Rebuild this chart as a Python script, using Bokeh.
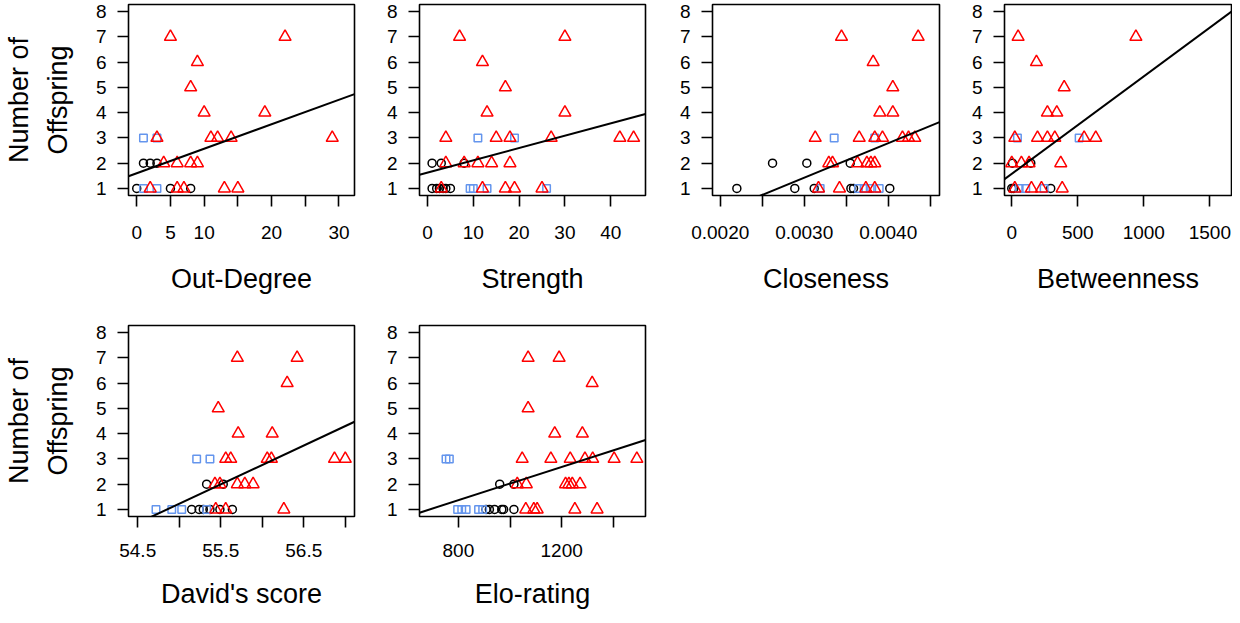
from bokeh.plotting import figure
from bokeh.models import Range1d, FixedTicker, NumeralTickFormatter
from bokeh.layouts import row, column
from bokeh.embed import file_html
from bokeh.resources import INLINE

FONT = "Liberation Sans"
Y_LABEL = "Number of\nOffspring"
Y_TICKS = [1, 2, 3, 4, 5, 6, 7, 8]
Y_RANGE = (0.72, 8.28)

# ---------------- Out-Degree ----------------
od_label = "Out-Degree"
od_tri_x = [5, 22, 9, 8, 10, 19, 3, 11, 12, 14, 29, 4, 6, 8, 9, 2, 6, 7, 13, 15]
od_tri_y = [7, 7, 6, 5, 4, 4, 3, 3, 3, 3, 3, 2, 2, 2, 2, 1, 1, 1, 1, 1]
od_circ_x = [1, 2, 3, 0, 5, 8]
od_circ_y = [2, 2, 2, 1, 1, 1]
od_sq_x = [1, 3, 1, 3]
od_sq_y = [3, 3, 1, 1]
od_fit = (1.6, 0.097)
od_xrange = (-1.22, 32.3)
od_major = [0, 5, 10, 20, 30]
od_minor = [15, 25]
od_fmt = "0"

# ---------------- Strength ----------------
st_label = "Strength"
st_tri_x = [7, 30, 12, 17, 13, 30, 4, 15, 18, 27, 42, 45, 4, 8, 11, 14, 18, 3, 12, 17, 19, 25]
st_tri_y = [7, 7, 6, 5, 4, 4, 3, 3, 3, 3, 3, 3, 2, 2, 2, 2, 2, 1, 1, 1, 1, 1]
st_circ_x = [1, 3, 8, 1, 2, 2.6, 3.4, 4, 5]
st_circ_y = [2, 2, 2, 1, 1, 1, 1, 1, 1]
st_sq_x = [11, 19, 9.3, 10, 13, 26]
st_sq_y = [3, 3, 1, 1, 1, 1]
st_fit = (1.625, 0.0488)
st_xrange = (-1.75, 47.6)
st_major = [0, 10, 20, 30, 40]
st_minor = []
st_fmt = "0"

# ---------------- Closeness ----------------
cl_label = "Closeness"
cl_tri_x = [0.003444, 0.004357, 0.003821, 0.004055, 0.0039, 0.004055, 0.003131, 0.003655,
            0.00384, 0.003932, 0.00417, 0.004242, 0.004317, 0.003293, 0.003337, 0.003635,
            0.003746, 0.003794, 0.00384, 0.00317, 0.00342, 0.003734, 0.00384]
cl_tri_y = [7, 7, 6, 5, 4, 4, 3, 3, 3, 3, 3, 3, 3, 2, 2, 2, 2, 2, 2, 1, 1, 1, 1]
cl_circ_x = [0.002623, 0.003031, 0.003548, 0.002198, 0.002888, 0.003119, 0.003556, 0.003587, 0.004019]
cl_circ_y = [2, 2, 2, 1, 1, 1, 1, 1, 1]
cl_sq_x = [0.003357, 0.00384, 0.00319, 0.003646, 0.003714, 0.003786, 0.003893]
cl_sq_y = [3, 3, 1, 1, 1, 1, 1]
cl_fit = (-2.67, 1365.0)
cl_xrange = (0.001908, 0.004611)
cl_major = [0.0020, 0.0030, 0.0040]
cl_minor = [0.0025, 0.0035, 0.0045]
cl_fmt = "0.0000"

# ---------------- Betweenness ----------------
bt_label = "Betweenness"
bt_tri_x = [48, 940, 187, 397, 270, 341, 23, 195, 270, 326, 548, 636, 0, 73, 131, 371, 23, 149, 225, 382]
bt_tri_y = [7, 7, 6, 5, 4, 4, 3, 3, 3, 3, 3, 3, 2, 2, 2, 2, 1, 1, 1, 1]
bt_circ_x = [5, 144, 0, 15, 295]
bt_circ_y = [2, 2, 1, 1, 1]
bt_sq_x = [43, 510, 56, 106, 245]
bt_sq_y = [3, 3, 1, 1, 1]
bt_fit = (1.58, 0.003857)
bt_xrange = (-55, 1664)
bt_major = [0, 500, 1000, 1500]
bt_minor = []
bt_fmt = "0"

# ---------------- David's score ----------------
ds_label = "David's score"
ds_tri_x = [55.70, 56.42, 56.30, 55.47, 55.71, 56.12, 55.56, 55.62, 56.06, 56.11, 56.87, 57.00,
            55.43, 55.49, 55.70, 55.79, 55.89, 55.44, 55.56, 56.26]
ds_tri_y = [7, 7, 6, 5, 4, 4, 3, 3, 3, 3, 3, 3, 2, 2, 2, 2, 2, 1, 1, 1]
ds_circ_x = [55.33, 55.53, 55.15, 55.24, 55.29, 55.37, 55.49, 55.64]
ds_circ_y = [2, 2, 1, 1, 1, 1, 1, 1]
ds_sq_x = [55.21, 55.37, 54.72, 54.91, 55.03, 55.33]
ds_sq_y = [3, 3, 1, 1, 1, 1]
ds_fit = (-83.31, 1.537)
ds_xrange = (54.389, 57.111)
ds_major = [54.5, 55.5, 56.5]
ds_minor = [55.0, 56.0, 57.0]
ds_fmt = "0.0"

# ---------------- Elo-rating ----------------
el_label = "Elo-rating"
el_tri_x = [1070, 1190, 1318, 1070, 1173, 1280, 1047, 1158, 1233, 1290, 1320, 1403, 1491,
            1028, 1063, 1215, 1228, 1241, 1271, 1061, 1092, 1105, 1251, 1337]
el_tri_y = [7, 7, 6, 5, 4, 4, 3, 3, 3, 3, 3, 3, 3, 2, 2, 2, 2, 2, 2, 1, 1, 1, 1, 1]
el_circ_x = [960, 1015, 907, 920, 940, 968, 975, 1015]
el_circ_y = [2, 2, 1, 1, 1, 1, 1, 1]
el_sq_x = [752, 765, 797, 813, 830, 878, 894]
el_sq_y = [3, 3, 1, 1, 1, 1, 1]
el_fit = (-1.267, 0.003291)
el_xrange = (649.4, 1524.5)
el_major = [800, 1200]
el_minor = [1000, 1400]
el_fmt = "0"

COL_W = [356, 291, 294, 291]
COL_BL = [126, 63, 65, 63]
COL_BR = [2, 2, 2, 1]


def make_panel(col, top_row, xlab, tx, ty, cx, cy, sx, sy, fit, xr, major, minor, fmt):
    if top_row:
        h, bt, bb, s1, s2 = 322, 4, 127, 19, 22
    else:
        h, bt, bb, s1, s2 = 293, 3, 99, 16, 19
    p = figure(width=COL_W[col], height=h, output_backend="svg", toolbar_location=None,
               x_range=Range1d(*xr), y_range=Range1d(*Y_RANGE),
               min_border_left=COL_BL[col], min_border_right=COL_BR[col],
               min_border_top=bt, min_border_bottom=bb)
    p.grid.visible = False
    p.outline_line_color = "black"
    p.outline_line_width = 1.6
    p.background_fill_color = "white"
    p.border_fill_color = "white"

    p.xaxis.ticker = FixedTicker(ticks=major, minor_ticks=minor)
    p.xaxis.formatter = NumeralTickFormatter(format=fmt)
    p.yaxis.ticker = FixedTicker(ticks=Y_TICKS)
    for ax in (p.xaxis, p.yaxis):
        ax.axis_line_color = None
        ax.major_tick_in = 0
        ax.major_tick_out = 11
        ax.minor_tick_in = 0
        ax.minor_tick_out = 11
        ax.major_tick_line_width = 1.6
        ax.minor_tick_line_width = 1.6
        ax.major_tick_line_color = "black"
        ax.minor_tick_line_color = "black"
        ax.major_label_text_font = FONT
        ax.major_label_text_font_size = "19px"
        ax.major_label_text_color = "black"
        ax.axis_label_text_font = FONT
        ax.axis_label_text_font_size = "27px"
        ax.axis_label_text_font_style = "normal"
        ax.axis_label_text_color = "black"
    p.yaxis.minor_tick_line_color = None
    p.xaxis.major_label_standoff = s1
    p.yaxis.major_label_standoff = 11
    p.xaxis.axis_label = xlab
    p.xaxis.axis_label_standoff = s2
    if col == 0:
        p.yaxis.axis_label = Y_LABEL
        p.yaxis.axis_label_standoff = 20
        p.yaxis.axis_label_text_line_height = 1.3

    p.scatter(cx, cy, marker="circle", size=8, fill_color=None, line_color="black", line_width=1.5)
    p.scatter(sx, sy, marker="square", size=7.5, fill_color=None, line_color="#6495ED", line_width=1.5)
    p.scatter(tx, ty, marker="triangle", size=12, fill_color=None, line_color="red", line_width=1.5)
    a, b = fit
    p.line([xr[0], xr[1]], [a + b * xr[0], a + b * xr[1]], line_color="black", line_width=2)
    return p


p1 = make_panel(0, True, od_label, od_tri_x, od_tri_y, od_circ_x, od_circ_y, od_sq_x, od_sq_y,
                od_fit, od_xrange, od_major, od_minor, od_fmt)
p2 = make_panel(1, True, st_label, st_tri_x, st_tri_y, st_circ_x, st_circ_y, st_sq_x, st_sq_y,
                st_fit, st_xrange, st_major, st_minor, st_fmt)
p3 = make_panel(2, True, cl_label, cl_tri_x, cl_tri_y, cl_circ_x, cl_circ_y, cl_sq_x, cl_sq_y,
                cl_fit, cl_xrange, cl_major, cl_minor, cl_fmt)
p4 = make_panel(3, True, bt_label, bt_tri_x, bt_tri_y, bt_circ_x, bt_circ_y, bt_sq_x, bt_sq_y,
                bt_fit, bt_xrange, bt_major, bt_minor, bt_fmt)
p5 = make_panel(0, False, ds_label, ds_tri_x, ds_tri_y, ds_circ_x, ds_circ_y, ds_sq_x, ds_sq_y,
                ds_fit, ds_xrange, ds_major, ds_minor, ds_fmt)
p6 = make_panel(1, False, el_label, el_tri_x, el_tri_y, el_circ_x, el_circ_y, el_sq_x, el_sq_y,
                el_fit, el_xrange, el_major, el_minor, el_fmt)

layout = column(row(p1, p2, p3, p4), row(p5, p6))
open("out.html", "w").write(file_html(layout, INLINE))
